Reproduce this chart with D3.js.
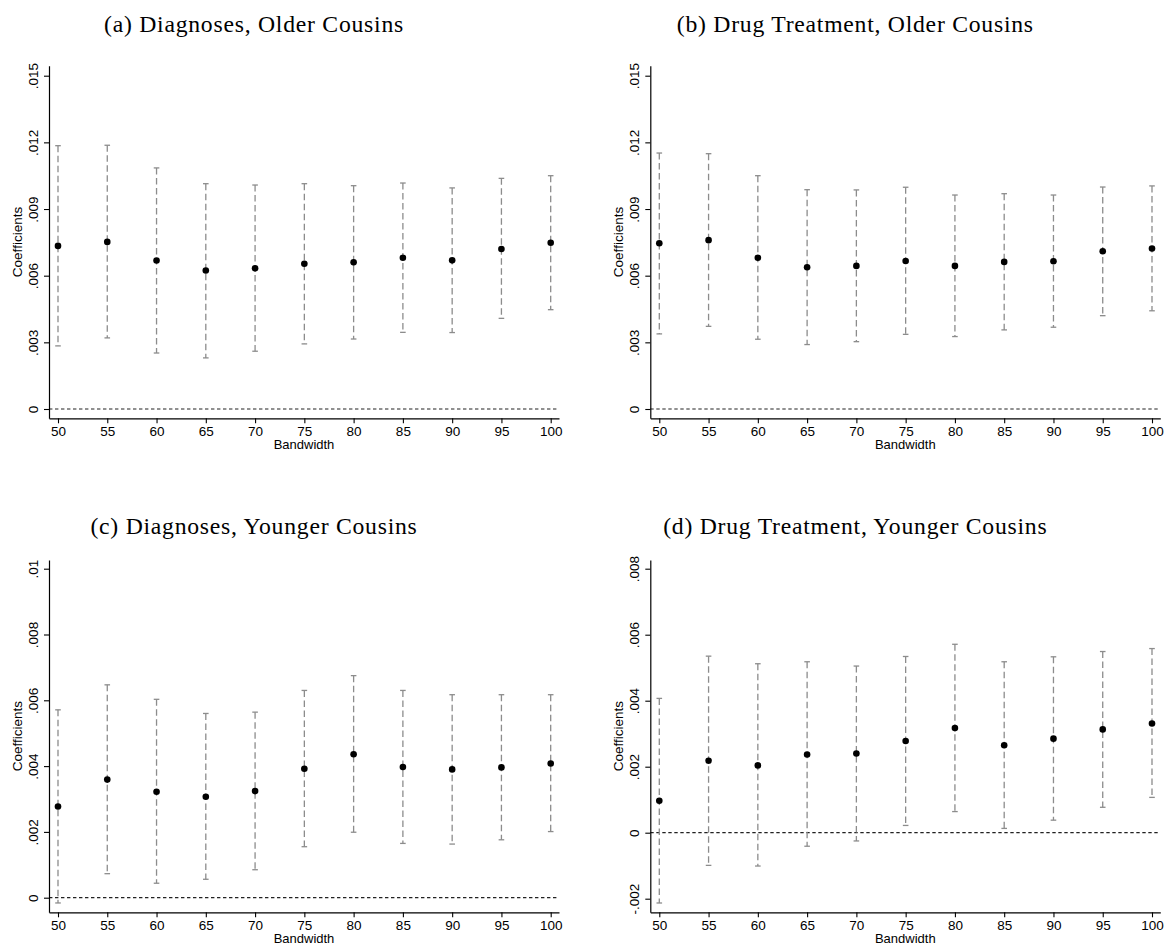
<!DOCTYPE html>
<html>
<head>
<meta charset="utf-8">
<script src="https://cdn.jsdelivr.net/npm/d3@7"></script>
<style>
  html, body { margin: 0; padding: 0; background: #fff; }
  svg { display: block; }
  .title { font-family: "Liberation Serif", "DejaVu Serif", serif; font-size: 23.7px; letter-spacing: 0.75px; fill: #000; }
  .tick text, .axis-label { font-family: "Liberation Sans", Arial, sans-serif; fill: #000; }
</style>
</head>
<body>
<svg id="chart" width="1166" height="947"></svg>
<script>
// Bandwidths on the x axis (shared by every panel)
const bandwidths = [50, 55, 60, 65, 70, 75, 80, 85, 90, 95, 100];

// (a) Diagnoses, Older Cousins
const diagOlderCoef  = [0.00734, 0.00752, 0.00668, 0.00623, 0.00633, 0.00654, 0.00660, 0.00681, 0.00669, 0.00720, 0.00748];
const diagOlderUpper = [0.01185, 0.01187, 0.01085, 0.01014, 0.01008, 0.01014, 0.01005, 0.01017, 0.00995, 0.01038, 0.01050];
const diagOlderLower = [0.00284, 0.00320, 0.00252, 0.00230, 0.00260, 0.00293, 0.00315, 0.00345, 0.00344, 0.00408, 0.00447];

// (b) Drug Treatment, Older Cousins
const drugOlderCoef  = [0.00746, 0.00760, 0.00681, 0.00638, 0.00644, 0.00666, 0.00644, 0.00662, 0.00665, 0.00710, 0.00722];
const drugOlderUpper = [0.01152, 0.01149, 0.01050, 0.00987, 0.00986, 0.00998, 0.00963, 0.00969, 0.00963, 0.00999, 0.01004];
const drugOlderLower = [0.00338, 0.00372, 0.00314, 0.00290, 0.00303, 0.00336, 0.00326, 0.00356, 0.00368, 0.00420, 0.00442];

// (c) Diagnoses, Younger Cousins
const diagYoungerCoef  = [0.00277, 0.00359, 0.00322, 0.00307, 0.00324, 0.00392, 0.00436, 0.00397, 0.00390, 0.00396, 0.00408];
const diagYoungerUpper = [0.00571, 0.00647, 0.00603, 0.00560, 0.00564, 0.00630, 0.00675, 0.00630, 0.00617, 0.00617, 0.00617];
const diagYoungerLower = [-0.00016, 0.00073, 0.00044, 0.00056, 0.00085, 0.00155, 0.00199, 0.00165, 0.00163, 0.00176, 0.00201];

// (d) Drug Treatment, Younger Cousins
const drugYoungerCoef  = [0.00097, 0.00218, 0.00204, 0.00237, 0.00240, 0.00278, 0.00317, 0.00265, 0.00285, 0.00313, 0.00331];
const drugYoungerUpper = [0.00407, 0.00535, 0.00512, 0.00518, 0.00505, 0.00534, 0.00571, 0.00518, 0.00533, 0.00549, 0.00558];
const drugYoungerLower = [-0.00213, -0.00099, -0.00101, -0.00041, -0.00025, 0.00022, 0.00064, 0.00013, 0.00038, 0.00077, 0.00107];

// Y tick values and their printed labels
const olderTicks = [0, 0.003, 0.006, 0.009, 0.012, 0.015];
const olderTickLabels = ["0", ".003", ".006", ".009", ".012", ".015"];
const diagYoungerTicks = [0, 0.002, 0.004, 0.006, 0.008, 0.01];
const diagYoungerTickLabels = ["0", ".002", ".004", ".006", ".008", ".01"];
const drugYoungerTicks = [-0.002, 0, 0.002, 0.004, 0.006, 0.008];
const drugYoungerTickLabels = ["-.002", "0", ".002", ".004", ".006", ".008"];

const titles = [
  "(a) Diagnoses, Older Cousins",
  "(b) Drug Treatment, Older Cousins",
  "(c) Diagnoses, Younger Cousins",
  "(d) Drug Treatment, Younger Cousins"
];

const panels = [
  { title: titles[0], coef: diagOlderCoef, upper: diagOlderUpper, lower: diagOlderLower,
    ticks: olderTicks, tickLabels: olderTickLabels,
    ox: 0, axisTop: 65.7, axisBottom: 418.3, tickTopPx: 75.7, tickBottomPx: 409, titleY: 32 },
  { title: titles[1], coef: drugOlderCoef, upper: drugOlderUpper, lower: drugOlderLower,
    ticks: olderTicks, tickLabels: olderTickLabels,
    ox: 601.3, axisTop: 65.7, axisBottom: 418.3, tickTopPx: 75.7, tickBottomPx: 409, titleY: 32 },
  { title: titles[2], coef: diagYoungerCoef, upper: diagYoungerUpper, lower: diagYoungerLower,
    ticks: diagYoungerTicks, tickLabels: diagYoungerTickLabels,
    ox: 0, axisTop: 560, axisBottom: 912.3, tickTopPx: 568.7, tickBottomPx: 897.7, titleY: 534 },
  { title: titles[3], coef: drugYoungerCoef, upper: drugYoungerUpper, lower: drugYoungerLower,
    ticks: drugYoungerTicks, tickLabels: drugYoungerTickLabels,
    ox: 601.3, axisTop: 560, axisBottom: 912.3, tickTopPx: 568.7, tickBottomPx: 898.7, titleY: 534 }
];

const svg = d3.select("#chart");

panels.forEach(p => {
  const g = svg.append("g").attr("transform", `translate(${p.ox},0)`);
  const axisX = 49, xEnd = 559;

  // x scale: bandwidth 50 and 100 land inside the axis line, which runs a bit past them
  const xBase = d3.scaleLinear().domain([50, 100]).range([58, 550.7]);
  const x = d3.scaleLinear().domain([xBase.invert(axisX), xBase.invert(xEnd)]).range([axisX, xEnd]);

  // y scale: the extreme ticks sit inside the plot region
  const yTicksExt = d3.extent(p.ticks);
  const yBase = d3.scaleLinear().domain(yTicksExt).range([p.tickBottomPx, p.tickTopPx]);
  const y = d3.scaleLinear()
    .domain([yBase.invert(p.axisBottom), yBase.invert(p.axisTop)])
    .range([p.axisBottom, p.axisTop]);

  // Title
  g.append("text").attr("class", "title")
    .attr("x", 254).attr("y", p.titleY)
    .attr("text-anchor", "middle")
    .text(p.title);

  // Zero reference line
  g.append("line")
    .attr("x1", axisX).attr("x2", xEnd)
    .attr("y1", y(0)).attr("y2", y(0))
    .attr("stroke", "#222").attr("stroke-width", 1.2)
    .attr("stroke-dasharray", "3.4,2.6");

  // Confidence intervals: dashed grey with caps
  const ci = g.append("g");
  bandwidths.forEach((b, i) => {
    const cx = x(b);
    ci.append("line")
      .attr("x1", cx).attr("x2", cx)
      .attr("y1", y(p.upper[i])).attr("y2", y(p.lower[i]))
      .attr("stroke", "#8c8c8c").attr("stroke-width", 1.3)
      .attr("stroke-dasharray", "6.5,3.5");
    [p.upper[i], p.lower[i]].forEach(v => {
      ci.append("line")
        .attr("x1", cx - 2.8).attr("x2", cx + 2.8)
        .attr("y1", y(v)).attr("y2", y(v))
        .attr("stroke", "#8c8c8c").attr("stroke-width", 1.3);
    });
  });

  // Point estimates
  g.append("g").selectAll("circle")
    .data(bandwidths)
    .join("circle")
    .attr("cx", d => x(d))
    .attr("cy", (d, i) => y(p.coef[i]))
    .attr("r", 3.3)
    .attr("fill", "#000");

  // Y axis
  const yAxis = d3.axisLeft(y)
    .tickValues(p.ticks)
    .tickFormat((d, i) => p.tickLabels[i])
    .tickSize(5).tickSizeOuter(0);
  const yg = g.append("g").attr("transform", `translate(${axisX},0)`).call(yAxis);
  yg.select(".domain").attr("stroke", "#000").attr("stroke-width", 1.2);
  yg.selectAll(".tick line").attr("stroke", "#000").attr("stroke-width", 1.1);
  yg.selectAll(".tick text")
    .attr("x", null).attr("dy", null)
    .attr("transform", "translate(-11,0) rotate(-90)")
    .attr("text-anchor", "middle")
    .style("font-size", "13.5px");

  // X axis
  const xAxis = d3.axisBottom(x)
    .tickValues(bandwidths)
    .tickFormat(d3.format("d"))
    .tickSize(5).tickSizeOuter(0);
  const xg = g.append("g").attr("transform", `translate(0,${p.axisBottom})`).call(xAxis);
  xg.select(".domain").attr("stroke", "#000").attr("stroke-width", 1.2);
  xg.selectAll(".tick line").attr("stroke", "#000").attr("stroke-width", 1.1);
  xg.selectAll(".tick text")
    .attr("y", 8).attr("dy", "0.71em")
    .style("font-size", "13.5px");

  // Axis titles
  g.append("text").attr("class", "axis-label")
    .attr("x", (axisX + xEnd) / 2).attr("y", p.axisBottom + 31)
    .attr("text-anchor", "middle")
    .style("font-size", "13px")
    .text("Bandwidth");
  g.append("text").attr("class", "axis-label")
    .attr("transform", `translate(${axisX - 27},${(p.axisTop + p.axisBottom) / 2}) rotate(-90)`)
    .attr("text-anchor", "middle")
    .style("font-size", "13.5px")
    .text("Coefficients");
});
</script>
</body>
</html>
